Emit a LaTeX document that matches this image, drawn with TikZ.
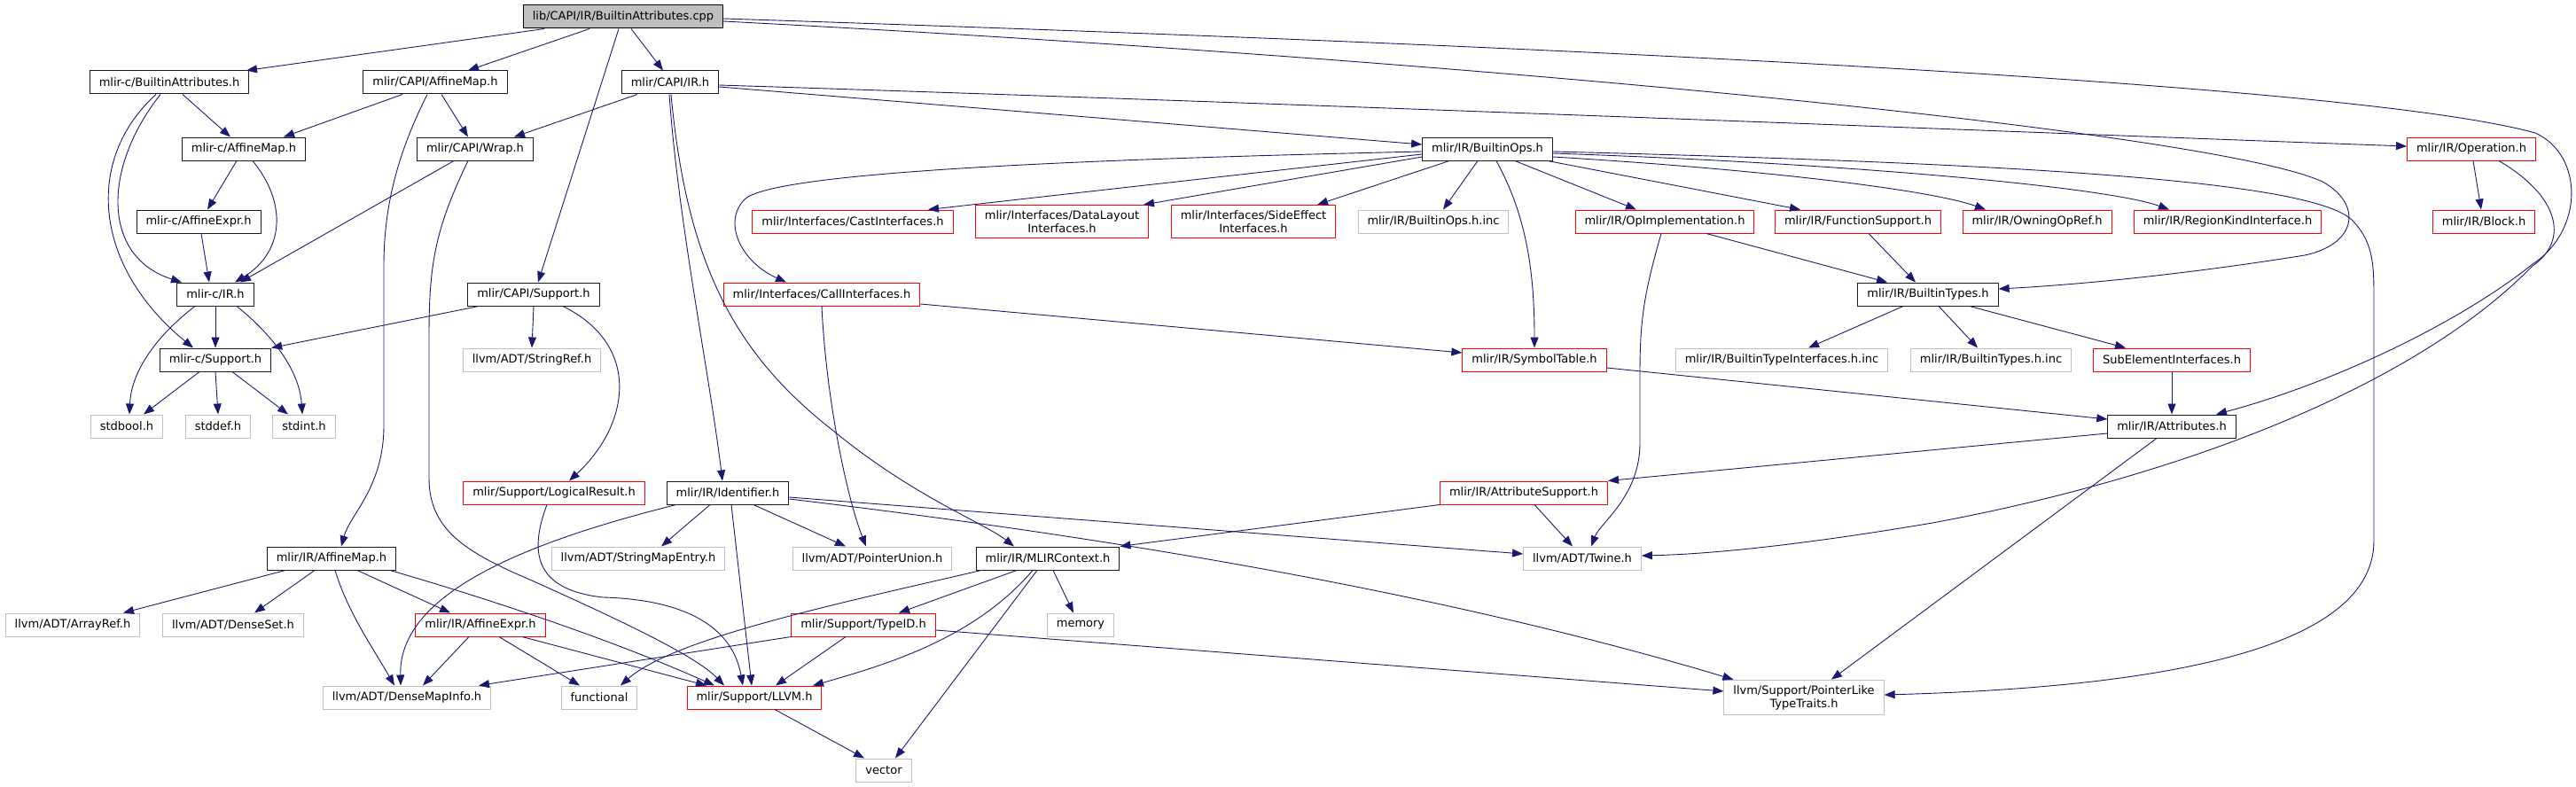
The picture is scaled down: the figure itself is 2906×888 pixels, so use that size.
\documentclass[tikz,border=0pt]{standalone}
\usepackage{fontspec}
\setmainfont{DejaVu Sans}
\usetikzlibrary{arrows.meta}
\definecolor{edgeblue}{HTML}{191970}
\definecolor{rootfill}{HTML}{BFBFBF}
\definecolor{hdrline}{HTML}{1A1A1A}
\definecolor{sysline}{HTML}{BFBFBF}
\definecolor{truncred}{HTML}{FF0000}
\tikzset{
  every picture/.style={line width=1pt},
  hdr/.style={draw=hdrline, fill=white, line width=1pt, inner xsep=10.5pt, inner ysep=6pt, minimum height=26pt, align=center, font=\fontsize{13}{15}\selectfont},
  rootbox/.style={hdr, draw=black, fill=rootfill},
  sys/.style={hdr, draw=sysline},
  trunc/.style={hdr, draw=truncred},
  dep/.style={draw=edgeblue, line width=0.9pt, -{Triangle[length=12pt,width=9pt]}},
}
\begin{document}
\begin{tikzpicture}[x=1pt, y=-1pt]
\useasboundingbox (0,0) rectangle (2906,888);
\node[rootbox] (root) at (703,19) {lib/CAPI/IR/BuiltinAttributes.cpp};
\node[hdr] (cBA) at (191,93) {mlir-c/BuiltinAttributes.h};
\node[hdr] (capiAM) at (491,93) {mlir/CAPI/AffineMap.h};
\node[hdr] (capiIR) at (756,93) {mlir/CAPI/IR.h};
\node[hdr] (cAM) at (275,168) {mlir-c/AffineMap.h};
\node[hdr] (wrap) at (536,168) {mlir/CAPI/Wrap.h};
\node[hdr] (bOps) at (1678,168) {mlir/IR/BuiltinOps.h};
\node[trunc] (operation) at (2788,168) {mlir/IR/Operation.h};
\node[hdr] (cAE) at (224,250) {mlir-c/AffineExpr.h};
\node[trunc] (castIf) at (962,250) {mlir/Interfaces/CastInterfaces.h};
\node[trunc] (dataLayout) at (1198,250) {mlir/Interfaces/DataLayout\\Interfaces.h};
\node[trunc] (sideEffect) at (1414,250) {mlir/Interfaces/SideEffect\\Interfaces.h};
\node[sys] (bOpsInc) at (1617,250) {mlir/IR/BuiltinOps.h.inc};
\node[trunc] (opImpl) at (1878,250) {mlir/IR/OpImplementation.h};
\node[trunc] (funcSup) at (2096,250) {mlir/IR/FunctionSupport.h};
\node[trunc] (owning) at (2298,250) {mlir/IR/OwningOpRef.h};
\node[trunc] (regionKind) at (2513,250) {mlir/IR/RegionKindInterface.h};
\node[trunc] (block) at (2802,250) {mlir/IR/Block.h};
\node[hdr] (cIR) at (243,332) {mlir-c/IR.h};
\node[hdr] (capiSup) at (602,332) {mlir/CAPI/Support.h};
\node[trunc] (callIf) at (927,332) {mlir/Interfaces/CallInterfaces.h};
\node[hdr] (bTypes) at (2175,332) {mlir/IR/BuiltinTypes.h};
\node[hdr] (cSup) at (243,406) {mlir-c/Support.h};
\node[sys] (stringRef) at (600,406) {llvm/ADT/StringRef.h};
\node[trunc] (symTable) at (1731,406) {mlir/IR/SymbolTable.h};
\node[sys] (bTIinc) at (2010,406) {mlir/IR/BuiltinTypeInterfaces.h.inc};
\node[sys] (bTinc) at (2246,406) {mlir/IR/BuiltinTypes.h.inc};
\node[trunc] (subElem) at (2450,406) {SubElementInterfaces.h};
\node[sys] (stdbool) at (143,481) {stdbool.h};
\node[sys] (stddef) at (246,481) {stddef.h};
\node[sys] (stdint) at (343,481) {stdint.h};
\node[hdr] (attrs) at (2450,481) {mlir/IR/Attributes.h};
\node[trunc] (logRes) at (625,556) {mlir/Support/LogicalResult.h};
\node[hdr] (ident) at (821,556) {mlir/IR/Identifier.h};
\node[trunc] (attrSup) at (1719,556) {mlir/IR/AttributeSupport.h};
\node[hdr] (irAM) at (374,630) {mlir/IR/AffineMap.h};
\node[sys] (strMapEntry) at (720,630) {llvm/ADT/StringMapEntry.h};
\node[sys] (ptrUnion) at (984,630) {llvm/ADT/PointerUnion.h};
\node[hdr] (mlirCtx) at (1182,630) {mlir/IR/MLIRContext.h};
\node[sys] (twine) at (1785,630) {llvm/ADT/Twine.h};
\node[sys] (arrayRef) at (82,705) {llvm/ADT/ArrayRef.h};
\node[sys] (denseSet) at (263,705) {llvm/ADT/DenseSet.h};
\node[trunc] (irAE) at (542,705) {mlir/IR/AffineExpr.h};
\node[trunc] (typeID) at (974,705) {mlir/Support/TypeID.h};
\node[sys] (memory) at (1219,705) {memory};
\node[sys] (denseMapInfo) at (459,787) {llvm/ADT/DenseMapInfo.h};
\node[sys] (functional) at (676,787) {functional};
\node[trunc] (llvmH) at (851,787) {mlir/Support/LLVM.h};
\node[sys] (ptrLike) at (2035,787) {llvm/Support/PointerLike\\TypeTraits.h};
\node[sys] (vector) at (997,869) {vector};
\foreach \a/\da/\b/\db in {root/-89/cBA/87, root/-38/capiAM/37, root/9/capiIR/-8, root/-5/capiSup/5,
  cBA/15/cAM/-15, capiAM/-37/cAM/45, capiAM/7/wrap/-8, capiIR/-37/wrap/44, cAM/-8/cAE/10,
  wrap/-24/cIR/28, cAE/3/cIR/-7, bOps/-43/sideEffect/72, bOps/-11/bOpsInc/11, bOps/31/opImpl/-32,
  bOps/68/funcSup/-65, operation/2/block/-3, cIR/0/cSup/0, cSup/-18/stdbool/19, cSup/0/stddef/0,
  cSup/19/stdint/-18, capiSup/0/stringRef/0, opImpl/47/bTypes/-46, funcSup/12/bTypes/-14,
  bTypes/-28/bTIinc/30, bTypes/12/bTinc/-15, bTypes/47/subElem/-52, subElem/0/attrs/0,
  attrs/-17/ptrLike/31, attrSup/12/twine/-11, ident/-20/strMapEntry/26, ident/4/llvmH/-3,
  ident/29/ptrUnion/-30, irAM/-52/arrayRef/57, irAM/-19/denseSet/24, irAM/29/irAE/-34,
  irAE/-13/denseMapInfo/18, irAE/21/functional/-22, mlirCtx/-35/typeID/40, mlirCtx/6/memory/-8,
  mlirCtx/-12/vector/13, typeID/-20/llvmH/24, llvmH/23/vector/-22}
  \draw[dep] ([xshift=\da pt]\a.south) -- ([xshift=\db pt]\b.north);
\draw[dep] ([yshift=-2pt]root.east) .. controls (1700,50) and (2650,92) .. (2860,150) .. controls (2915,175) and (2915,260) .. (2857,298) .. controls (2780,360) and (2640,430) .. ([xshift=50pt]attrs.north);
\draw[dep] ([yshift=-5pt]root.east) .. controls (1700,70) and (2500,150) .. (2620,205) .. controls (2665,230) and (2660,275) .. (2600,288) .. controls (2450,312) and (2330,322) .. ([yshift=6pt]bTypes.east);
\draw[dep] ([xshift=-10pt]cBA.south) .. controls (115,190) and (115,290) .. ([xshift=-38pt]cIR.north);
\draw[dep] ([xshift=-15pt]cBA.south) .. controls (95,180) and (105,300) .. ([xshift=-25pt]cSup.north);
\draw[dep] ([xshift=-9pt]capiAM.south) .. controls (445,180) and (433,240) .. (433,300) -- (433,480) .. controls (433,550) and (395,580) .. ([xshift=11pt]irAM.north);
\draw[dep] ([xshift=-1pt]capiIR.south) .. controls (765,250) and (800,420) .. ([xshift=-6pt]ident.north);
\draw[dep] ([xshift=1pt]capiIR.south) .. controls (775,300) and (830,400) .. (940,486) .. controls (1030,560) and (1110,590) .. ([xshift=-38pt]mlirCtx.north);
\draw[dep] ([yshift=-5pt]capiIR.east) -- ([yshift=5pt]bOps.west);
\draw[dep] ([yshift=-3pt]capiIR.east) .. controls (1500,118) and (2300,150) .. ([yshift=3pt]operation.west);
\draw[dep] ([xshift=10pt]cAM.south) .. controls (325,230) and (320,285) .. ([xshift=22pt]cIR.north);
\draw[dep] ([xshift=-8pt]wrap.south) .. controls (490,260) and (484,300) .. (484,380) -- (484,540) .. controls (484,600) and (530,625) .. (600,655) .. controls (700,700) and (785,740) .. ([xshift=-34pt]llvmH.north);
\draw[dep] ([xshift=-23pt]cIR.south) .. controls (175,380) and (148,420) .. ([xshift=3pt]stdbool.north);
\draw[dep] ([xshift=24pt]cIR.south) .. controls (310,380) and (338,420) .. ([xshift=-2pt]stdint.north);
\draw[dep] ([xshift=-62pt]capiSup.south) -- (cSup.north east);
\draw[dep] ([xshift=33pt]capiSup.south) .. controls (725,390) and (710,480) .. ([xshift=17pt]logRes.north);
\draw[dep] ([xshift=-8pt]logRes.south) .. controls (598,620) and (600,665) .. (680,674) .. controls (760,676) and (825,700) .. ([xshift=-13pt]llvmH.north);
\draw[dep] ([yshift=-3pt]bOps.west) .. controls (1200,180) and (870,195) .. (840,225) .. controls (815,250) and (835,295) .. ([xshift=-40pt]callIf.north);
\draw[dep] ([yshift=-6pt]bOps.west) -- ([xshift=85pt]castIf.north);
\draw[dep] ([yshift=-9pt]bOps.west) -- ([xshift=92pt]dataLayout.north);
\draw[dep] ([xshift=10pt]bOps.south) .. controls (1720,240) and (1731,300) .. (symTable.north);
\draw[dep] ([yshift=-9pt]bOps.east) .. controls (2000,192) and (2180,215) .. ([xshift=-58pt]owning.north);
\draw[dep] ([yshift=-5pt]bOps.east) .. controls (2100,185) and (2380,212) .. ([xshift=-66pt]regionKind.north);
\draw[dep] ([yshift=-3pt]bOps.east) .. controls (2300,185) and (2615,205) .. (2655,250) .. controls (2678,275) and (2678,300) .. (2678,340) -- (2678,610) .. controls (2678,730) and (2450,775) .. ([yshift=3pt]ptrLike.east);
\draw[dep] ([xshift=31pt]operation.south) .. controls (2885,220) and (2900,270) .. (2857,300) .. controls (2720,440) and (2450,540) .. (2180,590) .. controls (2050,612) and (1940,625) .. ([yshift=3pt]twine.east);
\draw[dep] ([xshift=-4pt]opImpl.south) .. controls (1855,330) and (1850,360) .. (1850,420) -- (1850,500) .. controls (1850,560) and (1805,590) .. ([xshift=10pt]twine.north);
\draw[dep] ([yshift=-11pt]callIf.east) -- ([yshift=8pt]symTable.west);
\draw[dep] (callIf.south) .. controls (932,450) and (955,560) .. ([xshift=-7pt]ptrUnion.north);
\draw[dep] ([yshift=-9pt]symTable.east) -- ([yshift=8pt]attrs.west);
\draw[dep] ([yshift=-8pt]attrs.west) -- (attrSup.north east);
\draw[dep] (attrSup.south west) -- (mlirCtx.north east);
\draw[dep] ([xshift=11pt]ident.south west) .. controls (560,620) and (450,680) .. ([xshift=-7pt]denseMapInfo.north);
\draw[dep] ([yshift=-5pt]ident.east) -- ([yshift=5pt]twine.west);
\draw[dep] ([yshift=-7pt]ident.east) .. controls (1200,600) and (1600,660) .. ([xshift=11pt]ptrLike.north west);
\draw[dep] ([xshift=4pt]irAM.south) .. controls (392,690) and (420,730) .. ([xshift=-14pt]denseMapInfo.north);
\draw[dep] ([xshift=66pt]irAM.south) .. controls (600,690) and (720,735) .. ([xshift=-45pt]llvmH.north);
\draw[dep] ([xshift=47pt]irAE.south) -- ([xshift=-54pt]llvmH.north);
\draw[dep] ([xshift=-17pt]mlirCtx.south) .. controls (1100,720) and (1000,750) .. ([xshift=66pt]llvmH.north);
\draw[dep] ([xshift=-75pt]mlirCtx.south) .. controls (950,680) and (760,720) .. ([xshift=24pt]functional.north);
\draw[dep] (typeID.south west) -- ([xshift=81pt]denseMapInfo.north);
\draw[dep] ([yshift=-6pt]typeID.east) -- ([yshift=7pt]ptrLike.west);
\end{tikzpicture}
\end{document}
